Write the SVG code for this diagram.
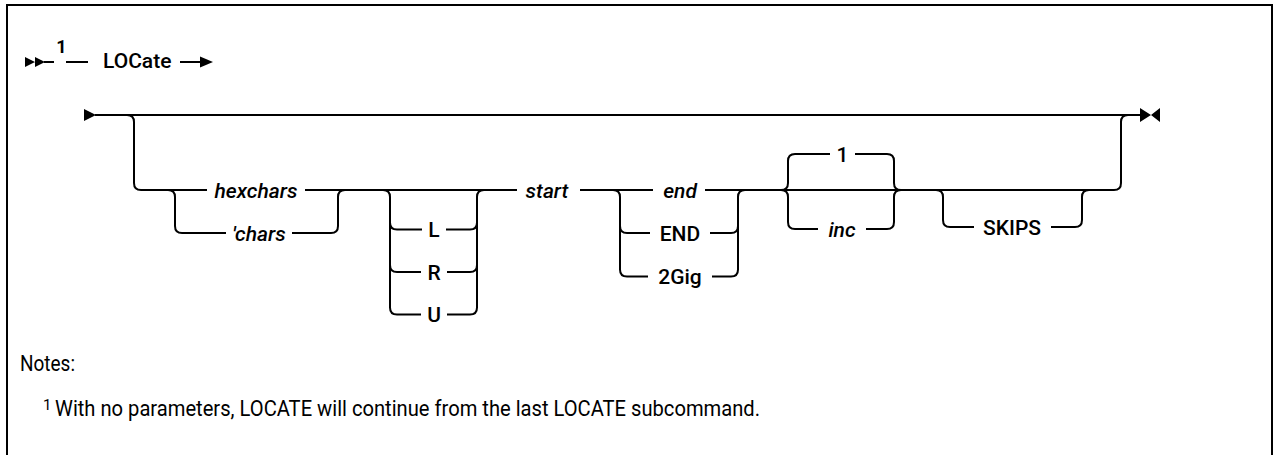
<svg xmlns="http://www.w3.org/2000/svg" width="1274" height="455" viewBox="0 0 1274 455">
<style>
.ln{fill:none;stroke:#000;stroke-width:2;stroke-linejoin:round}
.ah{fill:#000;stroke:none}
.kw{font-family:Roboto,"Liberation Sans",Arial,sans-serif;font-size:21px;font-weight:500;fill:#000;text-anchor:middle}
.var{font-family:Roboto,"Liberation Sans",Arial,sans-serif;font-size:21px;font-weight:500;font-style:italic;fill:#000;text-anchor:middle}
.note{font-family:Roboto,"Liberation Sans",Arial,sans-serif;font-size:22px;fill:#000}
</style>
<rect x="7" y="5" width="1265" height="500" fill="#fff" stroke="#000" stroke-width="2"/>

<g id="connectors">
  <!-- top line -->
  <path class="ah" d="M25,57 L35,62 L25,67 Z M35,57 L45,62 L35,67 Z"/>
  <path class="ln" d="M44,62 H54 M66,62 H88 M180,62 H202"/>
  <path class="ah" d="M200,56.5 L213,62 L200,67.5 Z"/>
  <!-- main line -->
  <path class="ah" d="M84,109 L96,115 L84,121 Z"/>
  <path class="ln" d="M95,115 H1140"/>
  <path class="ah" d="M1140,108 L1151,115 L1140,122 Z M1160,108 L1151,115 L1160,122 Z"/>
  <!-- bypass down to row -->
  <path class="ln" d="M127,115 Q134,115 134,122 V183 Q134,190 141,190 H207 M305,190 H517 M580,190 H653 M705,190 H1114 Q1121,190 1121,183 V122 Q1121,115 1128,115"/>
  <!-- 'chars branch -->
  <path class="ln" d="M168,190 Q175,190 175,197 V226 Q175,233 182,233 H226 M292,233 H331 Q338,233 338,226 V197 Q338,190 345,190"/>
  <!-- L R U -->
  <path class="ln" d="M383,190 Q390,190 390,197 V222.5 Q390,229.5 397,229.5 H422 M446,229.5 H470 Q477,229.5 477,222.5 V197 Q477,190 484,190"/>
  <path class="ln" d="M390,222 V265 Q390,272 397,272 H421 M447,272 H470 Q477,272 477,265 V222"/>
  <path class="ln" d="M390,265 V307.5 Q390,314.5 397,314.5 H421 M447,314.5 H470 Q477,314.5 477,307.5 V265"/>
  <!-- end / END / 2Gig -->
  <path class="ln" d="M613,190 Q620,190 620,197 V226 Q620,233 627,233 H650 M710,233 H731 Q738,233 738,226 V197 Q738,190 745,190"/>
  <path class="ln" d="M620,226 V269.5 Q620,276.5 627,276.5 H648 M712,276.5 H731 Q738,276.5 738,269.5 V226"/>
  <!-- 1 / inc -->
  <path class="ln" d="M781,190 Q788,190 788,183 V161 Q788,154 795,154 H830 M855,154 H887 Q894,154 894,161 V183 Q894,190 901,190"/>
  <path class="ln" d="M781,190 Q788,190 788,197 V222 Q788,229 795,229 H818 M866,229 H887 Q894,229 894,222 V197 Q894,190 901,190"/>
  <!-- SKIPS -->
  <path class="ln" d="M936,190 Q943,190 943,197 V220 Q943,227 950,227 H974 M1051,227 H1075 Q1082,227 1082,220 V197 Q1082,190 1089,190"/>
</g>

<g id="n-footref"><text x="61.5" y="52.5" class="kw" style="font-size:18px;font-weight:bold">1</text></g>
<g id="n-locate"><text x="103" y="68" class="kw" style="text-anchor:start">LOCate</text></g>
<g id="n-hexchars"><text x="256" y="197.5" class="var">hexchars</text></g>
<g id="n-chars"><text x="259" y="240.5" class="var">'chars</text></g>
<g id="n-L"><text x="434" y="237" class="kw">L</text></g>
<g id="n-R"><text x="434" y="279.5" class="kw">R</text></g>
<g id="n-U"><text x="434" y="322" class="kw">U</text></g>
<g id="n-start"><text x="547" y="197.5" class="var">start</text></g>
<g id="n-end"><text x="680" y="197.5" class="var">end</text></g>
<g id="n-END"><text x="680" y="240.5" class="kw">END</text></g>
<g id="n-2Gig"><text x="680" y="284" class="kw">2Gig</text></g>
<g id="n-1"><text x="842.5" y="161.5" class="kw">1</text></g>
<g id="n-inc"><text x="842" y="236.5" class="var">inc</text></g>
<g id="n-SKIPS"><text x="1012" y="234.5" class="kw">SKIPS</text></g>

<g id="notes">
  <text x="20" y="371" class="note" textLength="55" lengthAdjust="spacingAndGlyphs">Notes:</text>
  <text x="43" y="410" class="note" style="font-size:15px">1</text>
  <text x="55" y="416" class="note" textLength="705" lengthAdjust="spacingAndGlyphs">With no parameters, LOCATE will continue from the last LOCATE subcommand.</text>
</g>
</svg>
